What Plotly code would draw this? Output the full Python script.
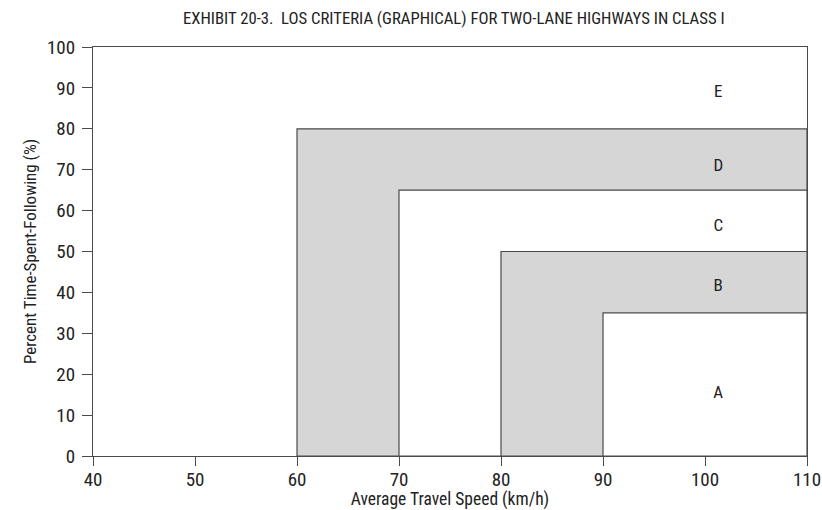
import plotly.graph_objects as go

# LOS criteria, Class I two-lane highways
los_levels = ["A", "B", "C", "D", "E"]
speed_min = [90, 80, 70, 60]          # km/h, lower ATS bound for A-D
ptsf_max = [35, 50, 65, 80]           # %, upper PTSF bound for A-D
x_max = 110
x_ticks = [40, 50, 60, 70, 80, 90, 100, 110]
y_ticks = [0, 10, 20, 30, 40, 50, 60, 70, 80, 90, 100]

label_x = 101.3
label_y = [15.3, 41.3, 56, 70.8, 88.7]

FONT = "Liberation Sans Narrow, Arial Narrow, Roboto Condensed, DejaVu Sans Condensed, Liberation Sans, sans-serif"
LINE = "#4a4a4a"
GRAY = "#d6d6d6"

fig = go.Figure()

# Draw from outermost (D) to innermost (A)
fills = {"D": GRAY, "C": "white", "B": GRAY, "A": "white"}
for i in [3, 2, 1, 0]:
    x0, y1 = speed_min[i], ptsf_max[i]
    fig.add_trace(go.Scatter(
        x=[x0, x_max, x_max, x0, x0],
        y=[0, 0, y1, y1, 0],
        mode="lines", fill="toself",
        fillcolor=fills[los_levels[i]],
        line=dict(color=LINE, width=1.2),
        hoverinfo="skip", showlegend=False,
    ))

fig.add_trace(go.Scatter(
    x=[label_x] * len(los_levels), y=label_y, text=los_levels,
    mode="text", textfont=dict(family=FONT, size=17, color="#222"),
    showlegend=False, hoverinfo="skip",
))

fig.update_layout(
    width=822, height=510,
    margin=dict(l=93, r=15, t=47, b=54, autoexpand=False),
    paper_bgcolor="white", plot_bgcolor="white",
    title=dict(text="EXHIBIT 20-3.  LOS CRITERIA (GRAPHICAL) FOR TWO-LANE HIGHWAYS IN CLASS I",
               x=0.552, xanchor="center", y=0.965, yanchor="middle",
               font=dict(family=FONT, size=16.7, color="#222")),
    font=dict(family=FONT, color="#222"),
)
fig.update_xaxes(
    range=[40, 110], tickvals=x_ticks, ticks="outside", ticklen=9,
    tickcolor=LINE, showgrid=False, zeroline=False, automargin=False,
    showline=True, linecolor=LINE, linewidth=1.2, mirror=True,
    ticklabelstandoff=-3,
    tickfont=dict(family=FONT, size=19, color="#222"),
    title=dict(text="Average Travel Speed (km/h)", standoff=0,
               font=dict(family=FONT, size=17.5, color="#222")),
)
fig.update_yaxes(
    range=[0, 100], tickvals=y_ticks, ticks="outside", ticklen=10,
    tickcolor=LINE, showgrid=False, zeroline=False, automargin=False,
    showline=True, linecolor=LINE, linewidth=1.2, mirror=True,
    ticklabelstandoff=3,
    tickfont=dict(family=FONT, size=19, color="#222"),
    title=dict(text="Percent Time-Spent-Following (%)", standoff=6,
               font=dict(family=FONT, size=17, color="#222")),
)

fig.write_html(
    "out.html",
    config={"displayModeBar": False},
    post_script="document.body.style.margin='0';document.body.style.overflow='hidden';",
)
